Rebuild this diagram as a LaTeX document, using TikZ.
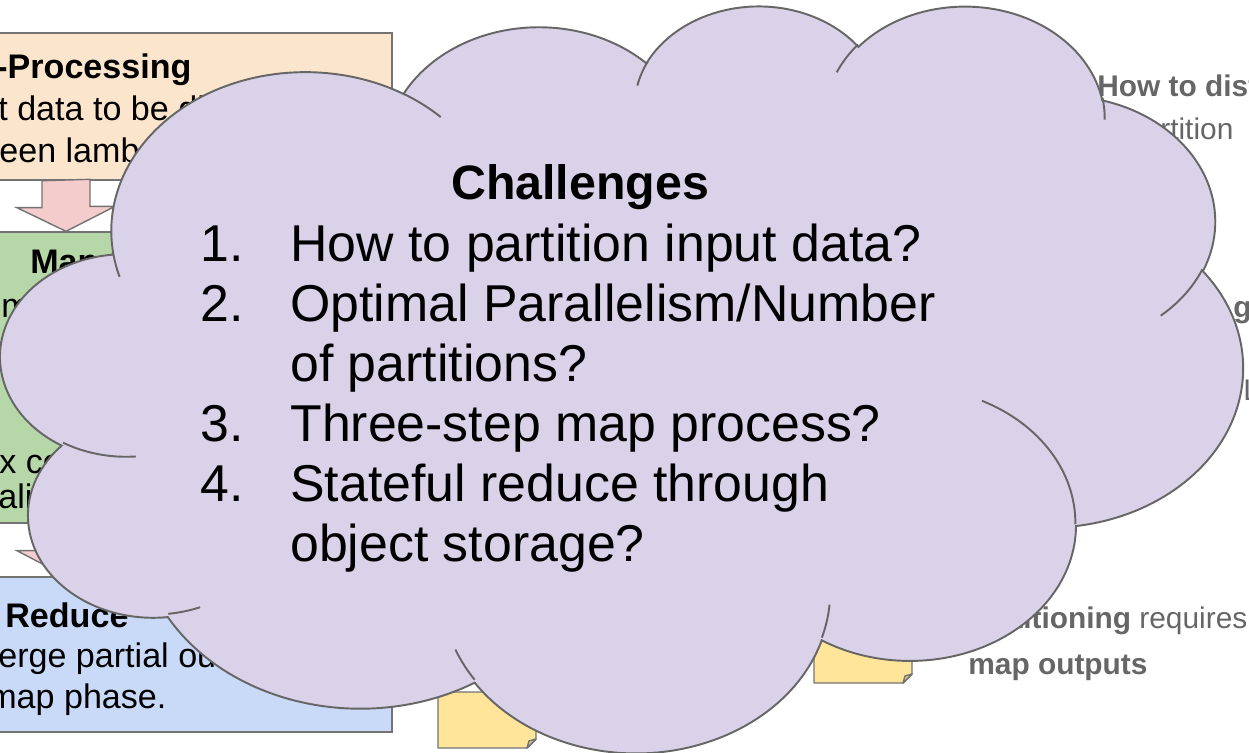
\documentclass[tikz,border=0pt]{standalone}
\usepackage{fontspec}
\setmainfont{Liberation Sans}
\definecolor{Peach}{HTML}{FCE5CD}
\definecolor{Leaf}{HTML}{B6D7A8}
\definecolor{Sky}{HTML}{C9DAF8}
\definecolor{Blush}{HTML}{F4CCCC}
\definecolor{Memo}{HTML}{FFE599}
\definecolor{Lilac}{HTML}{D9D2E9}
\definecolor{Edge}{HTML}{737373}
\definecolor{Slate}{HTML}{666666}

% elliptic arc given by radii, start angle and sweep (angles as seen, not parametric)
\newcommand\cloudarc[4]{arc[start angle={atan2(#1*sin(#3),#2*cos(#3))},
  delta angle={mod(atan2(#1*sin(#3+#4),#2*cos(#3+#4))-atan2(#1*sin(#3),#2*cos(#3))+720,360)},
  x radius=#1, y radius=#2]}

\begin{document}
\begin{tikzpicture}[
  x=0.02cm, y=-0.02cm,
  stage/.style={draw=Edge,line width=0.8pt,minimum width=13.04cm,inner sep=0pt},
  flow/.style={draw=Edge,line width=0.8pt,fill=Blush,line join=miter},
  memo/.style={draw=Edge,line width=0.8pt,fill=Memo,line join=round},
  cloud/.style={draw=Slate,line width=1.1pt,fill=Lilac},
  cloudline/.style={draw=Slate,line width=1.1pt},
  body/.style={anchor=base west,inner sep=0pt,font=\fontsize{19.4}{24}\selectfont},
  title/.style={body,font=\fontsize{19.4}{24}\selectfont\bfseries},
  faded/.style={anchor=base west,inner sep=0pt,text=Slate,font=\fontsize{17}{24}\selectfont},
  fadedbold/.style={faded,font=\fontsize{17}{24}\selectfont\bfseries},
  cloudtext/.style={anchor=base west,inner sep=0pt,font=\fontsize{29.5}{34}\selectfont}
]
\useasboundingbox (0,0) rectangle (1249,752);

% stages of the pipeline
\node[stage,fill=Peach,minimum height=2.94cm] (pre) at (66,106.5) {};
\node[stage,fill=Leaf,minimum height=5.82cm] (map) at (66,377.5) {};
\node[stage,fill=Sky,minimum height=3.1cm] (reduce) at (66,654.5) {};

\draw[flow] (pre.south) ++(-24,0) -- ++(0,27) -- ++(-25,0) -- (map.north)
  -- ++(49,-25) -- ++(-25,0) -- ++(0,-27) -- cycle;
\draw[flow] (map.south) ++(-24,0) -- ++(0,27) -- ++(-25,0) -- (reduce.north)
  -- ++(49,-25) -- ++(-25,0) -- ++(0,-27) -- cycle;

\node[title] (preT) at (-4,78) {-Processing};
\node[body] (preA) at (-2,120) {t data to be di};
\node[body] (preB) at (-1,162) {een lamb};
\node[title] (mapT) at (30,273) {Map};
\node[body] (mapA) at (1,317) {m};
\node[body] (mapB) at (-8,360) {e};
\node[body] (mapC) at (-1,473) {x co};
\node[body] (mapD) at (-2,508) {alig};
\node[title] (redT) at (5,627) {Reduce};
\node[body] (redA) at (-2,667) {erge partial outp};
\node[body] (redB) at (-12,708) {map phase.};

% sticky notes
\foreach \mx/\my in {438/692, 814/627}{
  \draw[memo] (\mx,\my) -- ++(98,0) -- ++(0,47) -- ++(-9,9) -- ++(-89,0) -- cycle;
  \draw[memo,fill=Memo!75!Edge] (\mx+89,\my+56) -- ++(2,-7) -- ++(7,-2) -- cycle;
}

% notes on the right
\node[fadedbold] (noteA) at (1097,96) {How to dist};
\node[faded] (noteB) at (1160,139) {rtition};
\node[fadedbold] (noteC) at (1233,317) {g};
\node[faded] (noteD) at (1243,400) {L};
\node[faded] (noteE) at (1013,628) {\textbf{titioning} requires};
\node[fadedbold] (noteF) at (968,674) {map outputs};

% the cloud
\begin{scope}[shift={(1,4)},x=0.0575cm,y=-0.034583cm]
  \draw[cloud] (39,143.7)
    \cloudarc{67.53}{91.90}{-190.48748}{123.78053}
    \cloudarc{53.33}{72.67}{-144.10238}{89.94523}
    \cloudarc{43.65}{59.45}{-145.80792}{99.72302}
    \cloudarc{48.57}{65.95}{-130.98607}{117.24173}
    \cloudarc{53.33}{72.73}{-78.70888}{109.02692}
    \cloudarc{67.75}{92.20}{-46.26725}{130.269}
    \cloudarc{57.85}{78.67}{0.62502}{114.03333}
    \cloudarc{67.52}{92.15}{22.4516}{115.17255}
    \cloudarc{77.20}{105.43}{66.24263}{75.71102}
    \cloudarc{43.60}{59.18}{-274.94208}{146.73557}
    \cloudarc{43.45}{59.45}{-246.8285}{152.51885}
    -- cycle;
  \draw[cloudline]
    (46.93,261.77) \cloudarc{43.45}{59.45}{86.742}{26.4295}
    (69.28,348.99) \cloudarc{43.60}{59.18}{73.61047}{11.44747}
    (164.78,390.90) \cloudarc{67.52}{92.15}{137.62415}{14.0811}
    (288.27,347.51) \cloudarc{67.52}{92.15}{6.45327}{15.99835}
    (341.29,229.54) \cloudarc{57.85}{78.67}{-70.29235}{70.91737}
    (417.98,153.54) \cloudarc{53.33}{72.73}{30.31803}{27.7515}
    (383.24,54.26) \cloudarc{48.57}{65.95}{-13.74433}{14.8589}
    (290.78,39.52) \cloudarc{48.57}{65.95}{-149.18145}{18.19537}
    (221.41,47.20) \cloudarc{43.65}{59.45}{-163.49427}{17.68635}
    (140.00,51.92) \cloudarc{67.53}{91.90}{-66.70695}{12.31935}
    (41.27,157.89) \cloudarc{67.53}{91.90}{157.65435}{11.85817};
\end{scope}

\node[cloudtext,anchor=base,font=\fontsize{27.5}{34}\selectfont\bfseries] (head) at (580,199) {Challenges};
\foreach \n/\ny in {1/261, 2/321, 3/441, 4/501}
  \node[cloudtext] (num\n) at (200,\ny) {\n.};
\node[cloudtext] (item1) at (290,261) {How to partition input data?};
\node[cloudtext] (item2) at (290,321) {Optimal Parallelism/Number};
\node[cloudtext] (item2b) at (290,381) {of partitions?};
\node[cloudtext] (item3) at (290,441) {Three-step map process?};
\node[cloudtext] (item4) at (290,501) {Stateful reduce through};
\node[cloudtext] (item4b) at (290,561) {object storage?};
\end{tikzpicture}
\end{document}
